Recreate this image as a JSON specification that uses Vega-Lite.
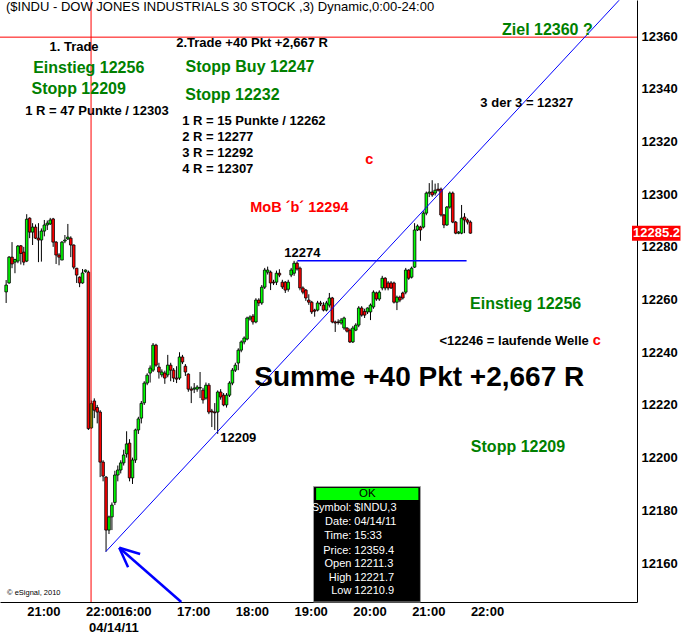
{
"$schema": "https://vega.github.io/schema/vega-lite/v6.json",
"width": 637, "height": 602,
"autosize": {"type": "none"},
"padding": {"left": 0, "top": 0, "right": 48, "bottom": 32},
"background": "white",
"config": {"view": {"stroke": null}, "font": "Liberation Sans"},
"datasets": {
"one": [{}],
"candles": [
{"i":0,"o":12262.9,"h":12267.4,"l":12258.7,"c":12265.5},
{"i":1,"o":12266.3,"h":12276.5,"l":12266.0,"c":12276.1},
{"i":2,"o":12276.1,"h":12281.8,"l":12271.9,"c":12273.5},
{"i":3,"o":12274.2,"h":12275.5,"l":12270.0,"c":12275.2},
{"i":4,"o":12274.6,"h":12280.7,"l":12273.8,"c":12280.3},
{"i":5,"o":12280.4,"h":12280.7,"l":12273.3,"c":12277.5},
{"i":6,"o":12278.0,"h":12280.0,"l":12273.0,"c":12274.2},
{"i":7,"o":12274.6,"h":12292.4,"l":12274.2,"c":12290.5},
{"i":8,"o":12290.9,"h":12291.2,"l":12283.3,"c":12285.6},
{"i":9,"o":12285.6,"h":12289.0,"l":12280.7,"c":12287.5},
{"i":10,"o":12287.5,"h":12288.5,"l":12283.0,"c":12283.3},
{"i":11,"o":12283.3,"h":12289.0,"l":12274.2,"c":12282.6},
{"i":12,"o":12282.6,"h":12287.0,"l":12274.4,"c":12286.0},
{"i":13,"o":12286.0,"h":12290.2,"l":12284.0,"c":12288.3},
{"i":14,"o":12288.3,"h":12290.0,"l":12286.4,"c":12289.0},
{"i":15,"o":12288.7,"h":12291.0,"l":12288.3,"c":12290.2},
{"i":16,"o":12290.6,"h":12291.0,"l":12280.0,"c":12281.8},
{"i":17,"o":12281.8,"h":12282.2,"l":12273.5,"c":12276.9},
{"i":18,"o":12276.9,"h":12277.6,"l":12273.0,"c":12276.1},
{"i":19,"o":12275.0,"h":12282.2,"l":12275.0,"c":12281.8},
{"i":20,"o":12282.2,"h":12284.5,"l":12281.4,"c":12282.6},
{"i":21,"o":12283.0,"h":12288.7,"l":12282.6,"c":12283.7},
{"i":22,"o":12283.3,"h":12284.0,"l":12276.1,"c":12280.7},
{"i":23,"o":12280.7,"h":12280.9,"l":12271.5,"c":12272.3},
{"i":24,"o":12271.9,"h":12272.0,"l":12266.3,"c":12269.3},
{"i":25,"o":12268.5,"h":12268.8,"l":12264.7,"c":12266.3},
{"i":26,"o":12266.3,"h":12271.6,"l":12266.0,"c":12270.1},
{"i":27,"o":12270.6,"h":12271.4,"l":12270.2,"c":12271.2},
{"i":28,"o":12270.4,"h":12271.0,"l":12210.5,"c":12211.0},
{"i":29,"o":12211.3,"h":12221.7,"l":12210.9,"c":12220.5},
{"i":30,"o":12221.5,"h":12222.5,"l":12215.0,"c":12218.0},
{"i":31,"o":12219.0,"h":12220.0,"l":12213.0,"c":12217.3},
{"i":32,"o":12217.3,"h":12218.0,"l":12192.6,"c":12198.3},
{"i":33,"o":12198.3,"h":12199.0,"l":12191.0,"c":12193.0},
{"i":34,"o":12192.6,"h":12193.0,"l":12164.3,"c":12172.5},
{"i":35,"o":12172.5,"h":12178.0,"l":12171.0,"c":12177.5},
{"i":36,"o":12177.5,"h":12183.0,"l":12172.5,"c":12182.0},
{"i":37,"o":12183.0,"h":12195.0,"l":12182.0,"c":12193.4},
{"i":38,"o":12193.4,"h":12197.0,"l":12191.0,"c":12195.3},
{"i":39,"o":12195.3,"h":12199.0,"l":12194.0,"c":12198.0},
{"i":40,"o":12198.0,"h":12203.0,"l":12197.0,"c":12201.0},
{"i":41,"o":12201.4,"h":12210.0,"l":12200.0,"c":12205.2},
{"i":42,"o":12205.5,"h":12207.0,"l":12191.0,"c":12192.3},
{"i":43,"o":12192.3,"h":12200.0,"l":12190.0,"c":12199.1},
{"i":44,"o":12199.1,"h":12211.0,"l":12198.0,"c":12210.5},
{"i":45,"o":12210.5,"h":12215.5,"l":12209.0,"c":12214.7},
{"i":46,"o":12215.0,"h":12221.5,"l":12213.0,"c":12220.6},
{"i":47,"o":12220.8,"h":12229.0,"l":12220.0,"c":12228.3},
{"i":48,"o":12228.3,"h":12232.0,"l":12227.5,"c":12231.3},
{"i":49,"o":12232.1,"h":12235.0,"l":12228.5,"c":12234.0},
{"i":50,"o":12233.2,"h":12243.5,"l":12232.5,"c":12242.7},
{"i":51,"o":12242.7,"h":12243.2,"l":12234.5,"c":12235.1},
{"i":52,"o":12234.4,"h":12236.0,"l":12230.0,"c":12232.5},
{"i":53,"o":12231.4,"h":12233.5,"l":12230.5,"c":12232.5},
{"i":54,"o":12232.1,"h":12233.0,"l":12228.0,"c":12230.2},
{"i":55,"o":12231.4,"h":12239.0,"l":12230.5,"c":12235.1},
{"i":56,"o":12235.1,"h":12236.0,"l":12229.0,"c":12233.2},
{"i":57,"o":12233.2,"h":12234.0,"l":12228.7,"c":12230.2},
{"i":58,"o":12230.2,"h":12234.7,"l":12228.3,"c":12229.8},
{"i":59,"o":12230.2,"h":12240.0,"l":12229.5,"c":12238.2},
{"i":60,"o":12238.2,"h":12239.0,"l":12235.5,"c":12236.3},
{"i":61,"o":12234.7,"h":12235.5,"l":12231.0,"c":12232.5},
{"i":62,"o":12231.7,"h":12232.0,"l":12225.0,"c":12226.0},
{"i":63,"o":12226.0,"h":12227.0,"l":12220.7,"c":12225.6},
{"i":64,"o":12226.0,"h":12228.3,"l":12224.5,"c":12226.4},
{"i":65,"o":12226.0,"h":12227.5,"l":12225.0,"c":12226.8},
{"i":66,"o":12226.4,"h":12232.5,"l":12222.6,"c":12226.6},
{"i":67,"o":12225.6,"h":12226.5,"l":12220.5,"c":12221.9},
{"i":68,"o":12222.6,"h":12228.5,"l":12222.0,"c":12227.5},
{"i":69,"o":12227.5,"h":12228.3,"l":12216.5,"c":12217.3},
{"i":70,"o":12217.7,"h":12218.5,"l":12211.6,"c":12217.3},
{"i":71,"o":12217.3,"h":12220.7,"l":12210.5,"c":12217.0},
{"i":72,"o":12217.3,"h":12225.5,"l":12209.0,"c":12224.9},
{"i":73,"o":12224.9,"h":12226.0,"l":12222.0,"c":12223.0},
{"i":74,"o":12223.7,"h":12224.5,"l":12219.5,"c":12220.0},
{"i":75,"o":12220.0,"h":12224.5,"l":12219.0,"c":12223.7},
{"i":76,"o":12223.7,"h":12229.0,"l":12223.0,"c":12228.3},
{"i":77,"o":12228.3,"h":12234.0,"l":12227.5,"c":12233.2},
{"i":78,"o":12233.2,"h":12236.0,"l":12232.5,"c":12235.1},
{"i":79,"o":12235.9,"h":12241.5,"l":12233.2,"c":12240.8},
{"i":80,"o":12240.8,"h":12244.5,"l":12240.0,"c":12243.9},
{"i":81,"o":12243.9,"h":12246.0,"l":12243.0,"c":12245.4},
{"i":82,"o":12245.0,"h":12253.5,"l":12244.5,"c":12253.0},
{"i":83,"o":12252.6,"h":12254.0,"l":12252.0,"c":12253.4},
{"i":84,"o":12253.7,"h":12254.5,"l":12250.5,"c":12251.5},
{"i":85,"o":12251.5,"h":12260.5,"l":12251.0,"c":12259.8},
{"i":86,"o":12259.8,"h":12260.5,"l":12257.5,"c":12258.7},
{"i":87,"o":12258.7,"h":12265.5,"l":12258.0,"c":12264.7},
{"i":88,"o":12264.7,"h":12272.0,"l":12264.0,"c":12271.2},
{"i":89,"o":12270.4,"h":12272.5,"l":12269.5,"c":12271.2},
{"i":90,"o":12270.4,"h":12271.0,"l":12263.6,"c":12266.3},
{"i":91,"o":12266.6,"h":12267.5,"l":12265.5,"c":12266.3},
{"i":92,"o":12266.6,"h":12271.0,"l":12265.5,"c":12270.0},
{"i":93,"o":12270.0,"h":12271.5,"l":12268.5,"c":12269.3},
{"i":94,"o":12266.6,"h":12267.5,"l":12264.0,"c":12264.8},
{"i":95,"o":12266.6,"h":12267.0,"l":12262.5,"c":12263.6},
{"i":96,"o":12263.9,"h":12267.5,"l":12263.0,"c":12266.6},
{"i":97,"o":12269.3,"h":12272.0,"l":12268.5,"c":12271.2},
{"i":98,"o":12270.0,"h":12274.7,"l":12269.0,"c":12273.8},
{"i":99,"o":12273.8,"h":12274.5,"l":12271.0,"c":12271.6},
{"i":100,"o":12271.9,"h":12272.5,"l":12263.5,"c":12264.4},
{"i":101,"o":12264.4,"h":12265.0,"l":12262.0,"c":12262.8},
{"i":102,"o":12263.6,"h":12264.0,"l":12259.5,"c":12260.6},
{"i":103,"o":12259.8,"h":12262.0,"l":12258.0,"c":12259.0},
{"i":104,"o":12259.0,"h":12259.5,"l":12254.5,"c":12255.3},
{"i":105,"o":12256.0,"h":12256.5,"l":12253.5,"c":12255.6},
{"i":106,"o":12256.0,"h":12259.5,"l":12255.5,"c":12258.7},
{"i":107,"o":12258.7,"h":12259.5,"l":12257.5,"c":12258.3},
{"i":108,"o":12257.9,"h":12259.0,"l":12255.5,"c":12256.0},
{"i":109,"o":12256.0,"h":12259.5,"l":12255.5,"c":12258.7},
{"i":110,"o":12257.9,"h":12262.5,"l":12257.0,"c":12260.6},
{"i":111,"o":12260.6,"h":12261.0,"l":12251.0,"c":12251.5},
{"i":112,"o":12251.5,"h":12252.0,"l":12247.7,"c":12251.1},
{"i":113,"o":12251.5,"h":12252.5,"l":12250.5,"c":12251.3},
{"i":114,"o":12251.1,"h":12253.0,"l":12250.5,"c":12252.2},
{"i":115,"o":12249.2,"h":12253.5,"l":12248.5,"c":12253.0},
{"i":116,"o":12249.2,"h":12249.5,"l":12247.5,"c":12248.0},
{"i":117,"o":12248.4,"h":12249.0,"l":12243.5,"c":12243.9},
{"i":118,"o":12243.9,"h":12250.0,"l":12243.5,"c":12249.2},
{"i":119,"o":12248.4,"h":12251.0,"l":12248.0,"c":12250.3},
{"i":120,"o":12250.3,"h":12257.5,"l":12249.5,"c":12256.8},
{"i":121,"o":12256.8,"h":12257.5,"l":12253.5,"c":12254.1},
{"i":122,"o":12255.5,"h":12256.5,"l":12253.0,"c":12254.1},
{"i":123,"o":12255.3,"h":12257.0,"l":12254.5,"c":12256.8},
{"i":124,"o":12255.3,"h":12258.5,"l":12252.2,"c":12257.9},
{"i":125,"o":12257.2,"h":12263.5,"l":12256.5,"c":12262.8},
{"i":126,"o":12262.5,"h":12263.0,"l":12259.5,"c":12260.2},
{"i":127,"o":12260.2,"h":12263.5,"l":12259.5,"c":12262.8},
{"i":128,"o":12264.4,"h":12269.0,"l":12263.5,"c":12268.1},
{"i":129,"o":12268.1,"h":12268.5,"l":12263.5,"c":12264.4},
{"i":130,"o":12266.3,"h":12267.0,"l":12263.5,"c":12264.4},
{"i":131,"o":12266.3,"h":12267.0,"l":12264.0,"c":12264.4},
{"i":132,"o":12266.3,"h":12266.8,"l":12258.5,"c":12259.0},
{"i":133,"o":12259.0,"h":12261.5,"l":12256.0,"c":12260.9},
{"i":134,"o":12260.9,"h":12261.5,"l":12259.0,"c":12259.8},
{"i":135,"o":12262.5,"h":12263.0,"l":12260.0,"c":12260.6},
{"i":136,"o":12262.8,"h":12272.0,"l":12262.0,"c":12271.2},
{"i":137,"o":12271.2,"h":12271.5,"l":12267.5,"c":12268.1},
{"i":138,"o":12268.5,"h":12272.5,"l":12268.0,"c":12271.9},
{"i":139,"o":12272.3,"h":12289.0,"l":12272.0,"c":12286.4},
{"i":140,"o":12286.4,"h":12288.5,"l":12286.0,"c":12287.9},
{"i":141,"o":12287.5,"h":12288.0,"l":12282.3,"c":12286.4},
{"i":142,"o":12287.5,"h":12293.5,"l":12287.0,"c":12292.8},
{"i":143,"o":12292.8,"h":12301.0,"l":12292.0,"c":12300.4},
{"i":144,"o":12300.4,"h":12304.2,"l":12298.9,"c":12300.8},
{"i":145,"o":12300.8,"h":12305.3,"l":12299.0,"c":12299.7},
{"i":146,"o":12300.4,"h":12304.0,"l":12299.5,"c":12301.5},
{"i":147,"o":12301.9,"h":12304.2,"l":12301.0,"c":12301.5},
{"i":148,"o":12301.9,"h":12302.5,"l":12291.5,"c":12292.1},
{"i":149,"o":12292.1,"h":12292.5,"l":12287.1,"c":12288.3},
{"i":150,"o":12288.3,"h":12295.5,"l":12288.0,"c":12295.1},
{"i":151,"o":12295.1,"h":12301.0,"l":12294.5,"c":12300.4},
{"i":152,"o":12300.4,"h":12301.0,"l":12289.0,"c":12289.4},
{"i":153,"o":12289.4,"h":12289.8,"l":12284.8,"c":12285.2},
{"i":154,"o":12285.2,"h":12286.0,"l":12284.8,"c":12285.6},
{"i":155,"o":12285.2,"h":12295.9,"l":12284.8,"c":12290.9},
{"i":156,"o":12291.3,"h":12292.8,"l":12285.2,"c":12290.2},
{"i":157,"o":12290.2,"h":12290.8,"l":12288.5,"c":12289.4},
{"i":158,"o":12289.4,"h":12290.0,"l":12285.0,"c":12285.2}
],
"trend": [{"i":33.9,"p":12164.3},{"i":208.6,"p":12373.6}],
"arrow": [
{"i":38.5,"p":12165.8,"i2":59.6,"p2":12145.2},
{"i":38.5,"p":12165.8,"i2":45.6,"p2":12163.4},
{"i":38.5,"p":12165.8,"i2":41.5,"p2":12158.4}
],
"black": [
{"i":23.1,"p":12355.8,"t":"1. Trade"},
{"i":30.9,"p":12331.5,"t":"1 R = 47 Punkte / 12303"},
{"i":83.7,"p":12357.3,"t":"2.Trade +40 Pkt +2,667 R"},
{"i":177.2,"p":12334.6,"t":"3 der 3 = 12327"},
{"i":100.8,"p":12277.6,"t":"12274"},
{"i":79.0,"p":12207.4,"t":"12209"}
],
"blackLeft": [
{"i":59.9,"p":12327.7,"t":"1 R = 15 Punkte / 12262"},
{"i":59.9,"p":12321.7,"t":"2 R = 12277"},
{"i":59.9,"p":12315.6,"t":"3 R = 12292"},
{"i":59.9,"p":12309.5,"t":"4 R = 12307"}
],
"blackRight": [{"i":198.3,"p":12244.3,"t":"<12246 = laufende Welle"}],
"green": [
{"i":28.1,"p":12347.9,"t":"Einstieg 12256"},
{"i":24.7,"p":12339.9,"t":"Stopp 12209"},
{"i":83.0,"p":12348.2,"t":"Stopp Buy 12247"},
{"i":77.0,"p":12337.6,"t":"Stopp 12232"},
{"i":184.2,"p":12362.3,"t":"Ziel 12360 ?"},
{"i":176.8,"p":12258.3,"t":"Einstieg 12256"},
{"i":174.2,"p":12204.0,"t":"Stopp 12209"}
],
"red": [
{"i":123.6,"p":12312.9,"t":"c"},
{"i":99.8,"p":12294.7,"t":"MoB ´b´ 12294"}
],
"redLeft": [{"i":199.6,"p":12244.3,"t":"c"}],
"big": [{"i":140.6,"p":12230.2,"t":"Summe +40 Pkt +2,667 R"}],
"boxRows": [
{"p":12181.0,"k":"Symbol:","v":"$INDU,3"},
{"p":12175.5,"k":"Date:","v":"04/14/11"},
{"p":12170.2,"k":"Time:","v":"15:33"},
{"p":12164.7,"k":"Price:","v":"12359.4"},
{"p":12159.6,"k":"Open","v":"12211.3"},
{"p":12154.4,"k":"High","v":"12221.7"},
{"p":12149.4,"k":"Low","v":"12210.9"}
]
},
"layer": [
{"data": {"name": "candles"},
 "mark": {"type": "rule", "color": "black", "strokeWidth": 1},
 "encoding": {
  "x": {"field": "i", "type": "quantitative",
   "scale": {"domain": [-0.39, 213.0], "nice": false, "zero": false},
   "axis": {"orient": "bottom", "title": null, "values": [7,27,28,38,58,78,98,118,138,158],
    "labelExpr": "datum.value == 7 ? '21:00' : datum.value == 27 ? '22:00' : datum.value == 28 ? [' ', '04/14/11'] : datum.value == 38 ? '16:00' : datum.value == 58 ? '17:00' : datum.value == 78 ? '18:00' : datum.value == 98 ? '19:00' : datum.value == 118 ? '20:00' : datum.value == 138 ? '21:00' : '22:00'",
    "ticks": false, "tickSize": 0, "grid": false, "domainColor": "black", "domainWidth": 1,
    "labelFont": "Liberation Sans", "labelFontWeight": "bold", "labelFontSize": 13, "labelColor": "black",
    "labelAlign": "left", "labelBaseline": "top", "labelPadding": 3, "labelFlush": false,
    "labelOverlap": false, "labelBound": false, "labelLineHeight": 16}},
  "y": {"field": "l", "type": "quantitative",
   "scale": {"domain": [12145.2, 12373.7], "nice": false, "zero": false},
   "axis": {"orient": "right", "title": null, "values": [12160,12180,12200,12220,12240,12260,12280,12300,12320,12340,12360],
    "format": "d", "ticks": false, "tickSize": 0, "grid": false, "domainColor": "black", "domainWidth": 1,
    "labelFont": "Liberation Sans", "labelFontWeight": "bold", "labelFontSize": 13, "labelColor": "black",
    "labelPadding": 4, "labelOverlap": false, "labelFlush": false}},
  "y2": {"field": "h"}}},
{"data": {"name": "candles"},
 "mark": {"type": "bar", "size": 2.6, "stroke": "black", "strokeWidth": 0.8},
 "encoding": {
  "x": {"field": "i", "type": "quantitative"},
  "y": {"field": "o", "type": "quantitative"},
  "y2": {"field": "c"},
  "fill": {"condition": {"test": "datum.c >= datum.o", "value": "#00ff00"}, "value": "#ff0000"}}},
{"data": {"name": "one"},
 "mark": {"type": "rule", "color": "#ff0000", "strokeWidth": 1},
 "encoding": {"x": {"datum": 28.9, "type": "quantitative"}}},
{"data": {"name": "one"},
 "mark": {"type": "rule", "color": "#ff0000", "strokeWidth": 1},
 "encoding": {"y": {"datum": 12359.6, "type": "quantitative"}}},
{"data": {"name": "trend"},
 "mark": {"type": "line", "color": "#0000ff", "strokeWidth": 1, "clip": true},
 "encoding": {"x": {"field": "i", "type": "quantitative"}, "y": {"field": "p", "type": "quantitative"}}},
{"data": {"name": "one"},
 "mark": {"type": "rule", "color": "#0000ff", "strokeWidth": 1.5},
 "encoding": {"x": {"datum": 99.1, "type": "quantitative"}, "x2": {"datum": 156.7}, "y": {"datum": 12274.7, "type": "quantitative"}}},
{"data": {"name": "arrow"},
 "mark": {"type": "rule", "color": "#0000ff", "strokeWidth": 2.5},
 "encoding": {"x": {"field": "i", "type": "quantitative"}, "x2": {"field": "i2"}, "y": {"field": "p", "type": "quantitative"}, "y2": {"field": "p2"}}},
{"data": {"name": "black"},
 "mark": {"type": "text", "font": "Liberation Sans", "fontWeight": "bold", "fontSize": 13, "color": "black", "align": "center", "baseline": "middle"},
 "encoding": {"x": {"field": "i", "type": "quantitative"}, "y": {"field": "p", "type": "quantitative"}, "text": {"field": "t"}}},
{"data": {"name": "blackLeft"},
 "mark": {"type": "text", "font": "Liberation Sans", "fontWeight": "bold", "fontSize": 13, "color": "black", "align": "left", "baseline": "middle"},
 "encoding": {"x": {"field": "i", "type": "quantitative"}, "y": {"field": "p", "type": "quantitative"}, "text": {"field": "t"}}},
{"data": {"name": "blackRight"},
 "mark": {"type": "text", "font": "Liberation Sans", "fontWeight": "bold", "fontSize": 13, "color": "black", "align": "right", "baseline": "middle"},
 "encoding": {"x": {"field": "i", "type": "quantitative"}, "y": {"field": "p", "type": "quantitative"}, "text": {"field": "t"}}},
{"data": {"name": "green"},
 "mark": {"type": "text", "font": "Liberation Sans", "fontWeight": "bold", "fontSize": 16, "color": "#008000", "align": "center", "baseline": "middle"},
 "encoding": {"x": {"field": "i", "type": "quantitative"}, "y": {"field": "p", "type": "quantitative"}, "text": {"field": "t"}}},
{"data": {"name": "red"},
 "mark": {"type": "text", "font": "Liberation Sans", "fontWeight": "bold", "fontSize": 14.5, "color": "#ff0000", "align": "center", "baseline": "middle"},
 "encoding": {"x": {"field": "i", "type": "quantitative"}, "y": {"field": "p", "type": "quantitative"}, "text": {"field": "t"}}},
{"data": {"name": "redLeft"},
 "mark": {"type": "text", "font": "Liberation Sans", "fontWeight": "bold", "fontSize": 14.5, "color": "#ff0000", "align": "left", "baseline": "middle"},
 "encoding": {"x": {"field": "i", "type": "quantitative"}, "y": {"field": "p", "type": "quantitative"}, "text": {"field": "t"}}},
{"data": {"name": "big"},
 "mark": {"type": "text", "font": "Liberation Sans", "fontWeight": "bold", "fontSize": 28, "color": "black", "align": "center", "baseline": "middle"},
 "encoding": {"x": {"field": "i", "type": "quantitative"}, "y": {"field": "p", "type": "quantitative"}, "text": {"field": "t"}}},
{"data": {"name": "one"},
 "mark": {"type": "rect", "fill": "black", "stroke": "#a0a0a0", "strokeWidth": 1},
 "encoding": {"x": {"datum": 104.6, "type": "quantitative"}, "x2": {"datum": 141.0}, "y": {"datum": 12189.0, "type": "quantitative"}, "y2": {"datum": 12145.2}}},
{"data": {"name": "one"},
 "mark": {"type": "rect", "fill": "#00ff00"},
 "encoding": {"x": {"datum": 105.5, "type": "quantitative"}, "x2": {"datum": 140.3}, "y": {"datum": 12188.5, "type": "quantitative"}, "y2": {"datum": 12183.9}}},
{"data": {"name": "one"},
 "mark": {"type": "text", "font": "Liberation Sans", "fontSize": 11.5, "color": "black", "align": "center", "baseline": "middle", "text": "OK"},
 "encoding": {"x": {"datum": 122.9, "type": "quantitative"}, "y": {"datum": 12186.2, "type": "quantitative"}}},
{"data": {"name": "boxRows"},
 "mark": {"type": "text", "font": "Liberation Sans", "fontSize": 11, "color": "white", "align": "right", "baseline": "middle"},
 "encoding": {"x": {"datum": 117.5, "type": "quantitative"}, "y": {"field": "p", "type": "quantitative"}, "text": {"field": "k"}}},
{"data": {"name": "boxRows"},
 "mark": {"type": "text", "font": "Liberation Sans", "fontSize": 11, "color": "white", "align": "left", "baseline": "middle"},
 "encoding": {"x": {"datum": 118.5, "type": "quantitative"}, "y": {"field": "p", "type": "quantitative"}, "text": {"field": "v"}}},
{"data": {"name": "one"},
 "mark": {"type": "rect", "fill": "#ff0000"},
 "encoding": {"x": {"datum": 213.0, "type": "quantitative"}, "x2": {"datum": 229.5}, "y": {"datum": 12288.0, "type": "quantitative"}, "y2": {"datum": 12282.3}}},
{"data": {"name": "one"},
 "mark": {"type": "text", "font": "Liberation Sans", "fontWeight": "bold", "fontSize": 13, "color": "white", "align": "left", "baseline": "middle", "dx": 1, "text": "12285.2"},
 "encoding": {"x": {"datum": 213.0, "type": "quantitative"}, "y": {"datum": 12285.2, "type": "quantitative"}}},
{"data": {"name": "one"},
 "mark": {"type": "text", "font": "Liberation Sans", "fontSize": 13, "color": "black", "align": "left", "baseline": "top", "dx": 1, "dy": 1, "text": "($INDU - DOW JONES INDUSTRIALS 30 STOCK ,3) Dynamic,0:00-24:00"},
 "encoding": {"x": {"datum": -0.39, "type": "quantitative"}, "y": {"datum": 12373.7, "type": "quantitative"}}},
{"data": {"name": "one"},
 "mark": {"type": "text", "font": "Liberation Sans", "fontSize": 7.5, "color": "black", "align": "left", "baseline": "middle", "text": "© eSignal, 2010"},
 "encoding": {"x": {"datum": 0.3, "type": "quantitative"}, "y": {"datum": 12148.6, "type": "quantitative"}}}
]
}
